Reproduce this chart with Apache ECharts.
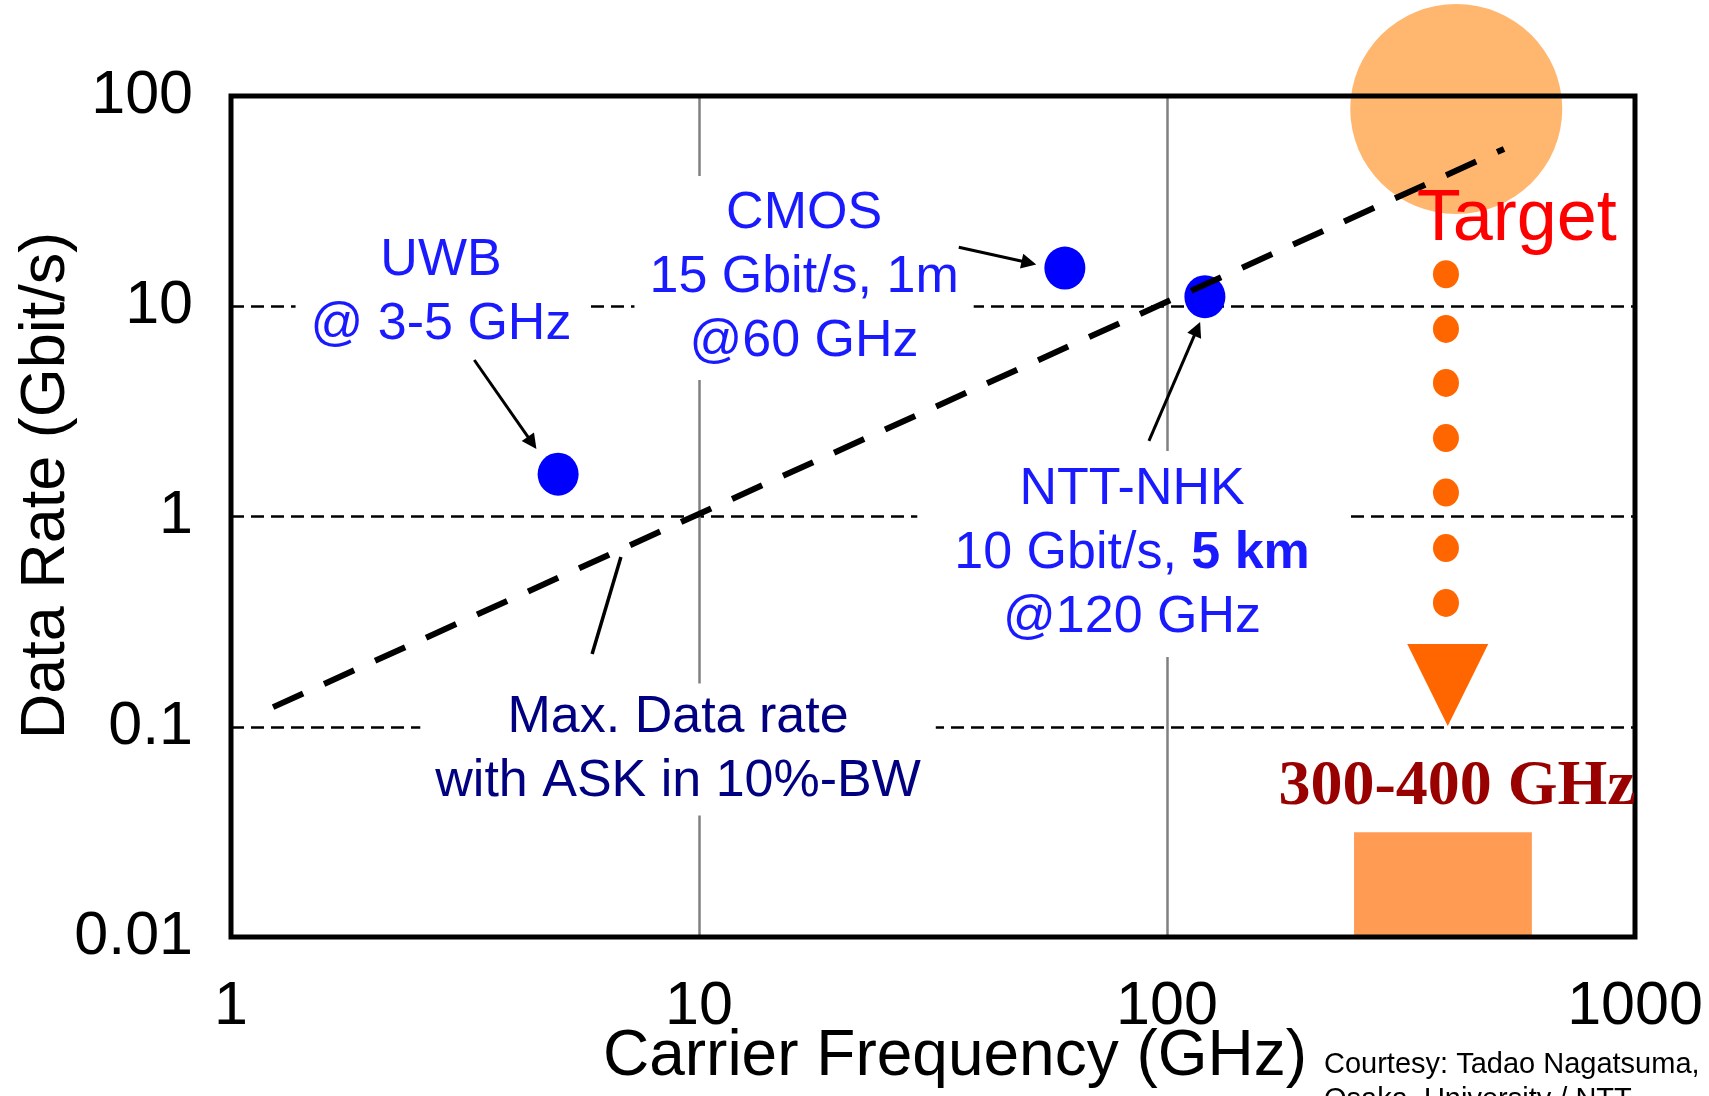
<!DOCTYPE html>
<html>
<head>
<meta charset="utf-8">
<title>Data Rate vs Carrier Frequency</title>
<script src="https://cdn.jsdelivr.net/npm/echarts@6/dist/echarts.min.js"></script>
<style>
  html, body { margin: 0; padding: 0; background: #ffffff; }
  #chart { width: 1709px; height: 1096px; }
</style>
</head>
<body>
<div id="chart"></div>
<script>
// ticks
const xTicks = [1, 10, 100, 1000];
const xTickLabels = ["1", "10", "100", "1000"];
const yTicks = [0.01, 0.1, 1, 10, 100];
const yTickLabels = ["0.01", "0.1", "1", "10", "100"];

// reported links (GHz, Gbit/s)
const linkNames = ["UWB", "CMOS", "NTT-NHK"];
const linkFreq = [5.0, 60.5, 120.5];
const linkRate = [1.59, 15.2, 11.1];

// max data rate with ASK in 10%-BW
const maxRateFreq = [1.23, 525];
const maxRate = [0.124, 56];

// target region
const targetFreq = [415];
const targetRate = [86.7];
const pathFreq = [394.5, 394.5, 394.5, 394.5, 394.5, 394.5, 394.5];
const pathRate = [14.2, 7.8, 4.32, 2.36, 1.3, 0.708, 0.388];
const headFreq = [398];
const headRate = [0.158];
const bandFreq = [251, 602];
const bandRate = [0.01, 0.0315];

// pointers from the notes to the points
const pointerFrom = [[3.31, 5.55], [35.9, 19.1], [91.5, 2.29]];
const pointerTo = [[4.4, 2.24], [50.7, 16.1], [116, 7.8]];
const leaderFrom = [5.91, 0.222];
const leaderTo = [6.81, 0.641];

// notes
const noteText = [
  "UWB\n@ 3-5 GHz",
  "CMOS\n15 Gbit/s, 1m\n@60 GHz",
  "NTT-NHK\n10 Gbit/s, {b|5 km}\n@120 GHz",
  "Max. Data rate\nwith ASK in 10%-BW"
];
const noteFreq = [2.81, 16.77, 84.2, 9.02];
const noteRate = [11.56, 13.63, 0.663, 0.078];
const targetText = "Target";
const targetTextFreq = 559;
const targetTextRate = 25.7;
const bandText = "300-400 GHz";
const bandTextFreq = 416.6;
const bandTextRate = 0.0517;

const SANS = '"Liberation Sans", Arial, sans-serif';
const SERIF = '"Liberation Serif", "Times New Roman", serif';
const BLUE = "#1A1AFF";
const NAVY = "#000080";

function tickLabel(ticks, labels) {
  return function (v) {
    for (let i = 0; i < ticks.length; i++) {
      if (Math.abs(Math.log10(ticks[i]) - Math.log10(v)) < 1e-6) return labels[i];
    }
    return "";
  };
}

var noteColors = [BLUE, BLUE, BLUE, NAVY];
var notePads = [[4, 15], [6, 15], [7, 37], [2, 15]];
var noteData = noteText.map(function (t, i) {
  return {
    value: [noteFreq[i], noteRate[i]],
    label: {
      formatter: t,
      color: noteColors[i],
      padding: notePads[i],
      rich: {
        b: { fontWeight: "bold", fontSize: 52, lineHeight: 64, fontFamily: SANS, color: noteColors[i] }
      }
    }
  };
});

var chart = echarts.init(document.getElementById("chart"));

var option = {
  backgroundColor: "#ffffff",
  animation: false,
  grid: {
    show: true,
    z: 10,
    left: 231,
    right: 74,
    top: 96,
    bottom: 159,
    outerBoundsMode: "none",
    borderColor: "#000000",
    borderWidth: 5,
    backgroundColor: "transparent"
  },
  xAxis: {
    type: "log",
    logBase: 10,
    min: 1,
    max: 1000,
    name: "Carrier Frequency (GHz)",
    nameLocation: "middle",
    nameGap: 88,
    nameMoveOverlap: false,
    nameTextStyle: { fontSize: 64, fontFamily: SANS, color: "#000", padding: [0, 0, 0, 44] },
    axisLine: { show: false },
    axisTick: { show: false },
    axisLabel: {
      fontSize: 61,
      fontFamily: SANS,
      color: "#000",
      margin: 40,
      formatter: tickLabel(xTicks, xTickLabels)
    },
    splitLine: { show: true, lineStyle: { color: "#808080", width: 2.5 } },
    minorSplitLine: { show: false }
  },
  yAxis: {
    type: "log",
    logBase: 10,
    min: 0.01,
    max: 100,
    name: "Data Rate (Gbit/s)",
    nameLocation: "middle",
    nameGap: 153,
    nameMoveOverlap: false,
    nameTextStyle: { fontSize: 63, fontFamily: SANS, color: "#000", padding: [0, 0, 0, 62] },
    axisLine: { show: false },
    axisTick: { show: false },
    axisLabel: {
      fontSize: 61,
      fontFamily: SANS,
      color: "#000",
      margin: 38,
      formatter: tickLabel(yTicks, yTickLabels)
    },
    splitLine: { show: true, lineStyle: { color: "#000", width: 2.5, type: [13, 7] } }
  },
  graphic: [
    {
      type: "text",
      left: 1324,
      top: 1047,
      z: 20,
      style: {
        text: "Courtesy: Tadao Nagatsuma,\nOsaka  University / NTT",
        font: '29px "Liberation Sans", Arial, sans-serif',
        lineHeight: 35,
        fill: "#000"
      }
    }
  ],
  series: [
    {
      // target circle
      type: "scatter",
      z: 1,
      clip: false,
      silent: true,
      symbol: "circle",
      symbolSize: [212, 210],
      itemStyle: { color: "#FFB76F", opacity: 1 },
      data: targetFreq.map((f, i) => [f, targetRate[i]])
    },
    {
      // 300-400 GHz band
      type: "custom",
      z: 1,
      silent: true,
      encode: { x: [0, 2], y: [1, 3] },
      renderItem: function (params, api) {
        var p0 = api.coord([api.value(0), api.value(1)]);
        var p1 = api.coord([api.value(2), api.value(3)]);
        return {
          type: "rect",
          shape: { x: p0[0], y: p1[1], width: p1[0] - p0[0], height: p0[1] - p1[1] },
          style: { fill: "#FF9B52" }
        };
      },
      data: [[bandFreq[0], bandRate[0], bandFreq[1], bandRate[1]]]
    },
    {
      // dotted path down to the band
      type: "scatter",
      z: 3,
      silent: true,
      symbolSize: [26, 28],
      itemStyle: { color: "#FF6600", opacity: 1 },
      data: pathFreq.map((f, i) => [f, pathRate[i]])
    },
    {
      type: "scatter",
      z: 3,
      silent: true,
      symbol: "triangle",
      symbolRotate: 180,
      symbolSize: [81, 82],
      itemStyle: { color: "#FF6600", opacity: 1 },
      data: headFreq.map((f, i) => [f, headRate[i]])
    },
    {
      // reported links
      type: "scatter",
      name: "links",
      z: 3,
      silent: true,
      symbolSize: [41, 43],
      itemStyle: { color: "#0000FF", opacity: 1 },
      data: linkFreq.map((f, i) => ({ name: linkNames[i], value: [f, linkRate[i]] }))
    },
    {
      type: "line",
      z: 4,
      silent: true,
      showSymbol: false,
      symbol: "none",
      lineStyle: { color: "#000", width: 6, type: [33, 23], cap: "butt", opacity: 1 },
      data: maxRateFreq.map((f, i) => [f, maxRate[i]])
    },
    {
      type: "scatter",
      z: 5,
      silent: true,
      symbolSize: 1,
      itemStyle: { color: "transparent", opacity: 1 },
      emphasis: { disabled: true },
      label: {
        show: true,
        position: "inside",
        align: "center",
        verticalAlign: "middle",
        fontSize: 52,
        lineHeight: 64,
        fontFamily: SANS,
        backgroundColor: "#ffffff"
      },
      data: noteData
    },
    {
      type: "lines",
      coordinateSystem: "cartesian2d",
      z: 6,
      silent: true,
      symbol: ["none", "triangle"],
      symbolSize: 15,
      lineStyle: { color: "#000", width: 3, opacity: 1, curveness: 0 },
      data: pointerFrom.map((p, i) => ({ coords: [p, pointerTo[i]] }))
    },
    {
      type: "lines",
      coordinateSystem: "cartesian2d",
      z: 6,
      silent: true,
      symbol: ["none", "none"],
      lineStyle: { color: "#000", width: 3.5, opacity: 1, curveness: 0 },
      data: [{ coords: [leaderFrom, leaderTo] }]
    },
    {
      type: "scatter",
      z: 20,
      silent: true,
      clip: false,
      symbolSize: 1,
      itemStyle: { color: "transparent", opacity: 1 },
      emphasis: { disabled: true },
      label: { show: true, position: "inside", align: "center", verticalAlign: "middle" },
      data: [
        {
          value: [targetTextFreq, targetTextRate],
          label: { formatter: targetText, fontSize: 72, fontFamily: SANS, color: "#FF0000" }
        },
        {
          value: [bandTextFreq, bandTextRate],
          label: { formatter: bandText, fontSize: 64, fontWeight: "bold", fontFamily: SERIF, color: "#990000" }
        }
      ]
    }
  ]
};

chart.setOption(option);
</script>
</body>
</html>
